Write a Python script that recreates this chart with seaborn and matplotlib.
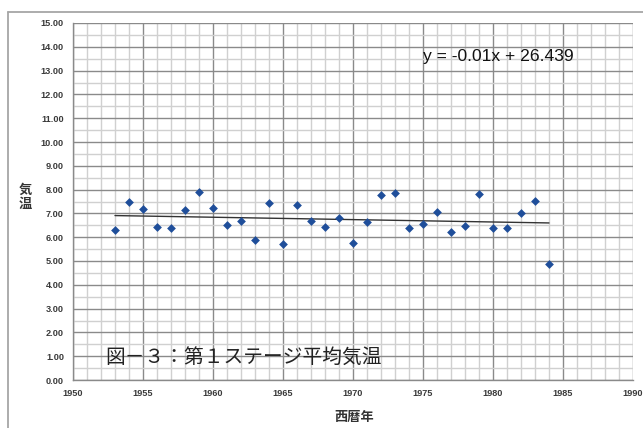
import numpy as np
import pandas as pd
import matplotlib
matplotlib.use("Agg")
import matplotlib.pyplot as plt
from matplotlib.lines import Line2D
from matplotlib.ticker import MultipleLocator, FormatStrFormatter
import seaborn as sns

# ---- data ----
years = list(range(1953, 1985))
temps = [6.32, 7.49, 7.17, 6.42, 6.38, 7.14, 7.89, 7.23, 6.52, 6.66,
         5.90, 7.45, 5.73, 7.37, 6.69, 6.41, 6.82, 5.77, 6.62, 7.79,
         7.87, 6.38, 6.56, 7.06, 6.21, 6.48, 7.80, 6.38, 6.38, 7.01,
         7.52, 4.87]
trend_slope = -0.01
trend_intercept = 26.439
equation_text = "y = -0.01x + 26.439"
caption_text = "図－３：第１ステージ平均気温"
x_label = "西暦年"
y_label = "気温"

sns.set_theme(style="white")
plt.rcParams['font.family'] = ['Liberation Sans', 'Noto Sans CJK JP', 'DejaVu Sans']

W, H = 643, 428
fig = plt.figure(figsize=(W / 100, H / 100), dpi=100)
fig.patch.set_facecolor('white')
ax = fig.add_axes([73 / W, 1 - 380 / H, 560 / W, 357 / H])

df = pd.DataFrame({'year': years, 'temp': temps})
sns.scatterplot(data=df, x='year', y='temp', marker='D', s=20,
                color='#1f4e9a', edgecolor='#1f4e9a', linewidth=0,
                ax=ax, zorder=4, legend=False)

line_x = np.array([years[0], years[-1]], dtype=float)
line_df = pd.DataFrame({'x': line_x, 'y': trend_slope * line_x + trend_intercept})
sns.lineplot(data=line_df, x='x', y='y', color='#333333', linewidth=1.0,
             ax=ax, zorder=3)

ax.set_xlim(1950, 1990)
ax.set_ylim(0, 15)
ax.xaxis.set_major_locator(MultipleLocator(5))
ax.xaxis.set_minor_locator(MultipleLocator(1))
ax.yaxis.set_major_locator(MultipleLocator(1))
ax.yaxis.set_minor_locator(MultipleLocator(0.5))
ax.yaxis.set_major_formatter(FormatStrFormatter('%.2f'))

ax.grid(which='major', color='#8a8a8a', linewidth=1.0)
ax.grid(which='minor', color='#d0d0d0', linewidth=1.0)
ax.set_axisbelow(True)

for side in ['top', 'right']:
    ax.spines[side].set_visible(False)
for side in ['left', 'bottom']:
    ax.spines[side].set_color('#8a8a8a')
    ax.spines[side].set_linewidth(1.0)

ax.tick_params(which='major', direction='out', length=5, width=0.8,
               color='#808080', labelsize=6.6, labelcolor='#3a3a3a', pad=1.5)
ax.tick_params(which='minor', length=0)
for lab in ax.get_xticklabels() + ax.get_yticklabels():
    lab.set_fontweight('bold')

ax.set_xlabel('')
ax.set_ylabel('')

ax.text((423 - 73) / 560, (380 - 57) / 357, equation_text,
        transform=ax.transAxes, ha='left', va='center',
        fontsize=12.6, color='#111111', family=['Liberation Sans'])

ax.text((105 - 73) / 560, (380 - 357) / 357, caption_text,
        transform=ax.transAxes, ha='left', va='center',
        fontsize=14.2, color='#222222', family=['Noto Sans CJK JP', 'DejaVu Sans'],
        zorder=5)

fig.text(354 / W, 1 - 417 / H, x_label, ha='center', va='center',
         fontsize=9.5, fontweight='bold', color='#333333',
         family=['Noto Sans CJK JP'])
fig.text(25 / W, 1 - 197 / H, "\n".join(y_label), ha='center', va='center',
         fontsize=9.5, fontweight='bold', color='#333333', linespacing=1.0,
         family=['Noto Sans CJK JP'])

# outer chart frame (left and top edges visible)
fig.add_artist(Line2D([8 / W, 8 / W], [0, 1 - 12 / H], transform=fig.transFigure,
                      color='#a6a6a6', linewidth=1.3))
fig.add_artist(Line2D([8 / W, 1], [1 - 12 / H, 1 - 12 / H], transform=fig.transFigure,
                      color='#a6a6a6', linewidth=1.3))

fig.savefig('out.png', dpi=100)
